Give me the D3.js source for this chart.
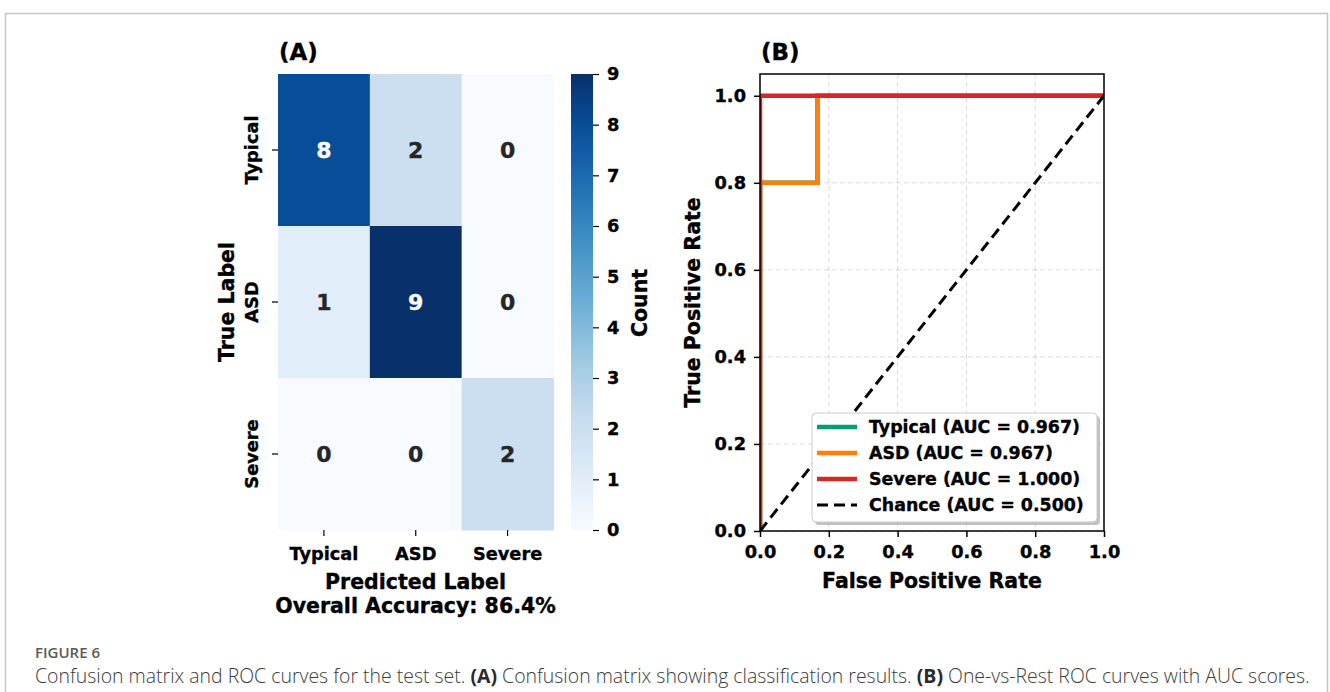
<!DOCTYPE html>
<html>
<head>
<meta charset="utf-8">
<script src="https://cdn.jsdelivr.net/npm/d3@7"></script>
<style>
  html, body { margin: 0; padding: 0; background: #fff; }
  svg { display: block; }
  .b { font-family: "DejaVu Sans", sans-serif; font-weight: bold; }
</style>
</head>
<body>
<svg id="chart" width="1330" height="692"></svg>
<script>
// ---------- data ----------
const classes = ["Typical", "ASD", "Severe"];
const confusion = [
  [8, 2, 0],
  [1, 9, 0],
  [0, 0, 2]
];
const colorbarTicks = [0, 1, 2, 3, 4, 5, 6, 7, 8, 9];
const accuracyText = "Overall Accuracy: 86.4%";

const rocSeries = [
  { name: "Typical", auc: "0.967", color: "#009e73",
    fpr: [0, 0, 0.167, 0.167, 1], tpr: [0, 0.8, 0.8, 1, 1] },
  { name: "ASD", auc: "0.967", color: "#ff7f0e",
    fpr: [0, 0, 0.167, 0.167, 1], tpr: [0, 0.8, 0.8, 1, 1] },
  { name: "Severe", auc: "1.000", color: "#d62728",
    fpr: [0, 0, 1], tpr: [0, 1, 1] }
];
const chanceFpr = [0, 1];
const chanceTpr = [0, 1];
const rocTicks = [0, 0.2, 0.4, 0.6, 0.8, 1.0];

// Matplotlib "Blues" anchors (ColorBrewer 9)
const bluesAnchors = ["#f7fbff","#deebf7","#c6dbef","#9ecae1","#6baed6","#4292c6","#2171b5","#08519c","#08306b"];

// ---------- setup ----------
const svg = d3.select("#chart");

// figure frame
svg.append("path")
  .attr("d", "M5.5,700 L5.5,13.5 L1327.5,13.5 L1327.5,700")
  .attr("fill", "none").attr("stroke", "#c4c4c4").attr("stroke-width", 1.5);

// ---------- Panel A: confusion matrix ----------
const vmin = 0, vmax = 9;
const color = d3.scaleLinear()
  .domain(d3.range(bluesAnchors.length).map(i => vmin + (vmax - vmin) * i / (bluesAnchors.length - 1)))
  .range(bluesAnchors)
  .interpolate(d3.interpolateRgb);

const hx = d3.scaleBand().domain(classes).range([278, 553.5]);
const hy = d3.scaleBand().domain(classes).range([74, 530]);

const cells = [];
confusion.forEach((row, i) => row.forEach((v, j) => cells.push({ r: classes[i], c: classes[j], v })));

const gA = svg.append("g");
gA.selectAll("rect.cell").data(cells).join("rect")
  .attr("class", "cell")
  .attr("x", d => hx(d.c)).attr("y", d => hy(d.r))
  .attr("width", hx.bandwidth() + 0.5).attr("height", hy.bandwidth() + 0.5)
  .attr("fill", d => color(d.v));

gA.selectAll("text.val").data(cells).join("text")
  .attr("class", "val b")
  .attr("x", d => hx(d.c) + hx.bandwidth() / 2)
  .attr("y", d => hy(d.r) + hy.bandwidth() / 2)
  .attr("dy", "0.36em")
  .attr("text-anchor", "middle")
  .attr("font-size", 22)
  .attr("fill", d => d.v > (vmax + vmin) / 2 ? "#ffffff" : "#262626")
  .text(d => d.v);

// x axis (bottom)
const xAxisA = gA.append("g").attr("transform", "translate(0,530)")
  .call(d3.axisBottom(hx).tickSize(6).tickPadding(4));
xAxisA.select(".domain").remove();
xAxisA.selectAll(".tick line").attr("stroke", "#000").attr("stroke-width", 1.2);
xAxisA.selectAll(".tick text").attr("class", "b").attr("font-size", 17.8).attr("fill", "#000")
  .attr("dy", null).attr("y", 30);

// y axis (left) with rotated labels
const yAxisA = gA.append("g").attr("transform", "translate(278,0)")
  .call(d3.axisLeft(hy).tickSize(6));
yAxisA.select(".domain").remove();
yAxisA.selectAll(".tick line").attr("stroke", "#000").attr("stroke-width", 1.2);
yAxisA.selectAll(".tick text").attr("class", "b").attr("font-size", 17.8).attr("fill", "#000")
  .attr("x", null).attr("dy", null)
  .attr("text-anchor", "middle")
  .attr("transform", "translate(-20,0) rotate(-90)");

gA.append("text").attr("class", "b").attr("font-size", 20.5)
  .attr("text-anchor", "middle")
  .attr("transform", "translate(234," + ((74 + 530) / 2) + ") rotate(-90)")
  .text("True Label");

gA.append("text").attr("class", "b").attr("font-size", 20.5)
  .attr("x", (278 + 553) / 2).attr("y", 589).attr("text-anchor", "middle")
  .text("Predicted Label");
gA.append("text").attr("class", "b").attr("font-size", 20.5)
  .attr("x", (278 + 553) / 2).attr("y", 613).attr("text-anchor", "middle")
  .text(accuracyText);

gA.append("text").attr("class", "b").attr("font-size", 23)
  .attr("x", 279).attr("y", 60).text("(A)");

// colorbar
const cbX = 571, cbW = 22;
const cbScale = d3.scaleLinear().domain([vmin, vmax]).range([530, 74]);
const defs = svg.append("defs");
const grad = defs.append("linearGradient").attr("id", "cbgrad")
  .attr("x1", "0").attr("y1", "1").attr("x2", "0").attr("y2", "0");
d3.range(0, 1.0001, 0.05).forEach(t => {
  grad.append("stop").attr("offset", t).attr("stop-color", color(vmin + t * (vmax - vmin)));
});
gA.append("rect").attr("x", cbX).attr("y", cbScale(vmax)).attr("width", cbW)
  .attr("height", cbScale(vmin) - cbScale(vmax)).attr("fill", "url(#cbgrad)");
const cbAxis = gA.append("g").attr("transform", "translate(" + (cbX + cbW) + ",0)")
  .call(d3.axisRight(cbScale).tickValues(colorbarTicks).tickFormat(d3.format("d")).tickSize(6).tickPadding(8));
cbAxis.select(".domain").remove();
cbAxis.selectAll(".tick line").attr("stroke", "#000").attr("stroke-width", 1.2);
cbAxis.selectAll(".tick text").attr("class", "b").attr("font-size", 17.8).attr("fill", "#000");
gA.append("text").attr("class", "b").attr("font-size", 20.5)
  .attr("text-anchor", "middle")
  .attr("transform", "translate(647,303) rotate(-90)")
  .text("Count");

// ---------- Panel B: ROC ----------
const L = 760, R = 1104, T = 74, B = 531;
const rx = d3.scaleLinear().domain([0, 1]).range([L, R]);
const ry = d3.scaleLinear().domain([0, 1.05]).range([B, T]);

const gB = svg.append("g");
defs.append("clipPath").attr("id", "rocclip").append("rect")
  .attr("x", L).attr("y", T).attr("width", R - L).attr("height", B - T);

// grid
gB.append("g").selectAll("line.gx").data(rocTicks).join("line")
  .attr("x1", d => rx(d)).attr("x2", d => rx(d)).attr("y1", T).attr("y2", B)
  .attr("stroke", "#b0b0b0").attr("stroke-opacity", 0.45).attr("stroke-width", 1)
  .attr("stroke-dasharray", "5,3");
gB.append("g").selectAll("line.gy").data(rocTicks).join("line")
  .attr("y1", d => ry(d)).attr("y2", d => ry(d)).attr("x1", L).attr("x2", R)
  .attr("stroke", "#b0b0b0").attr("stroke-opacity", 0.45).attr("stroke-width", 1)
  .attr("stroke-dasharray", "5,3");

const line = d3.line().x(d => rx(d[0])).y(d => ry(d[1]));
const plot = gB.append("g").attr("clip-path", "url(#rocclip)");
rocSeries.forEach(s => {
  plot.append("path").datum(s.fpr.map((f, i) => [f, s.tpr[i]]))
    .attr("d", line).attr("fill", "none").attr("stroke", s.color)
    .attr("stroke-width", 4.5).attr("stroke-linejoin", "miter").attr("stroke-linecap", "butt");
});
plot.append("path").datum(chanceFpr.map((f, i) => [f, chanceTpr[i]]))
  .attr("d", line).attr("fill", "none").attr("stroke", "#000")
  .attr("stroke-width", 3).attr("stroke-dasharray", "11,6");

// spines
gB.append("rect").attr("x", L).attr("y", T).attr("width", R - L).attr("height", B - T)
  .attr("fill", "none").attr("stroke", "#000").attr("stroke-width", 1.5);

const xAxisB = gB.append("g").attr("transform", "translate(0," + B + ")")
  .call(d3.axisBottom(rx).tickValues(rocTicks).tickFormat(d3.format(".1f")).tickSize(6).tickPadding(4));
xAxisB.select(".domain").remove();
xAxisB.selectAll(".tick line").attr("stroke", "#000").attr("stroke-width", 1.5);
xAxisB.selectAll(".tick text").attr("class", "b").attr("font-size", 17.8).attr("fill", "#000")
  .attr("dy", null).attr("y", 27);

const yAxisB = gB.append("g").attr("transform", "translate(" + L + ",0)")
  .call(d3.axisLeft(ry).tickValues(rocTicks).tickFormat(d3.format(".1f")).tickSize(6).tickPadding(8));
yAxisB.select(".domain").remove();
yAxisB.selectAll(".tick line").attr("stroke", "#000").attr("stroke-width", 1.5);
yAxisB.selectAll(".tick text").attr("class", "b").attr("font-size", 17.8).attr("fill", "#000");

gB.append("text").attr("class", "b").attr("font-size", 20.5)
  .attr("x", (L + R) / 2).attr("y", 588).attr("text-anchor", "middle")
  .text("False Positive Rate");
gB.append("text").attr("class", "b").attr("font-size", 20.5)
  .attr("text-anchor", "middle")
  .attr("transform", "translate(700," + ((T + B) / 2) + ") rotate(-90)")
  .text("True Positive Rate");
gB.append("text").attr("class", "b").attr("font-size", 23)
  .attr("x", 761).attr("y", 60).text("(B)");

// legend
const legendItems = rocSeries.map(s => ({ label: s.name + " (AUC = " + s.auc + ")", color: s.color, dash: null }))
  .concat([{ label: "Chance (AUC = 0.500)", color: "#000", dash: "11,6" }]);
const lgX = 812, lgY = 413, lgW = 285, lgH = 109;
const lg = gB.append("g");
lg.append("rect").attr("x", lgX + 3).attr("y", lgY + 3).attr("width", lgW).attr("height", lgH)
  .attr("rx", 4).attr("fill", "#9a9a9a").attr("fill-opacity", 0.6);
lg.append("rect").attr("x", lgX).attr("y", lgY).attr("width", lgW).attr("height", lgH)
  .attr("rx", 4).attr("fill", "#fff").attr("stroke", "#cccccc").attr("stroke-width", 1);
const rowY = d3.scalePoint().domain(legendItems.map(d => d.label)).range([427, 505]);
const li = lg.selectAll("g.li").data(legendItems).join("g").attr("class", "li")
  .attr("transform", d => "translate(0," + rowY(d.label) + ")");
li.append("line").attr("x1", 817).attr("x2", 857).attr("y1", 0).attr("y2", 0)
  .attr("stroke", d => d.color).attr("stroke-width", d => d.dash ? 3 : 4.5)
  .attr("stroke-dasharray", d => d.dash);
li.append("text").attr("class", "b").attr("font-size", 17.4)
  .attr("x", 869).attr("dy", "0.36em").text(d => d.label);

// slightly heavier rendering of the bold chart text
svg.selectAll("text.b").each(function () {
  const t = d3.select(this);
  t.attr("stroke", t.attr("fill") || "#000").attr("stroke-width", 0.35);
});

// ---------- caption ----------
svg.append("text").attr("x", 35).attr("y", 658)
  .attr("font-family", "'Open Sans', sans-serif").attr("font-weight", 600)
  .attr("font-size", 15).attr("fill", "#5a5a5a").text("FIGURE 6");

const cap = svg.append("text").attr("id", "cap").attr("x", 35).attr("y", 683)
  .attr("font-family", "'Open Sans', sans-serif").attr("font-weight", 300)
  .attr("font-size", 17).attr("fill", "#3c3c3c");
const capParts = [
  { t: "Confusion matrix and ROC curves for the test set. ", b: false },
  { t: "(A)", b: true },
  { t: " Confusion matrix showing classification results. ", b: false },
  { t: "(B)", b: true },
  { t: " One-vs-Rest ROC curves with AUC scores.", b: false }
];
cap.selectAll("tspan").data(capParts).join("tspan")
  .attr("font-weight", d => d.b ? 700 : 300)
  .attr("fill", d => d.b ? "#2a2a2a" : "#3c3c3c")
  .text(d => d.t);
// fit caption to the reference's width
const targetW = 1310 - 35;
const w = cap.node().getComputedTextLength();
cap.attr("font-size", 17 * targetW / w);
</script>
</body>
</html>
